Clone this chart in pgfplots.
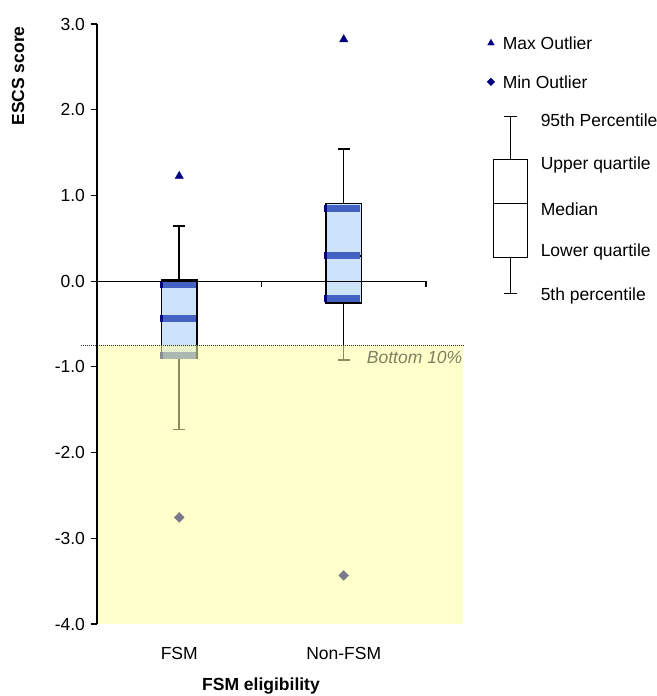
\documentclass[border=0pt]{standalone}
\usepackage{pgfplots}
\pgfplotsset{compat=1.18}
\usepgfplotslibrary{statistics}
\usepackage{fontspec}
\setmainfont{Liberation Sans}
\definecolor{boxfill}{HTML}{CCE3FB}
\definecolor{band}{HTML}{4462C4}
\definecolor{navy}{HTML}{000080}
\definecolor{shade}{HTML}{FFFFA2}
\definecolor{bottomtxt}{HTML}{7F7F62}
\definecolor{minout}{HTML}{7A7A8C}
\begin{document}
\fontsize{17.5}{21}\selectfont
\begin{tikzpicture}[x=1pt,y=1pt]
\useasboundingbox (0,0) rectangle (656,696);
\begin{axis}[
  at={(97pt,72pt)}, anchor=south west,
  scale only axis, width=366pt, height=600pt,
  xmin=-0.5, xmax=1.725, ymin=-4, ymax=3,
  clip=false,
  boxplot/draw direction=y,
  axis lines=left, axis line style={-},
  x axis line style={draw=none},
  y axis line style={black, line width=1.2pt},
  xtick={0,1}, xticklabels={FSM,Non-FSM},
  x tick style={draw=none},
  xticklabel style={anchor=center, yshift=-23pt},
  ytick={-4,-3,-2,-1,0,1,2,3},
  yticklabels={-4.0,-3.0,-2.0,-1.0,0.0,1.0,2.0,3.0},
  y tick style={black, line width=1.2pt},
  tick align=outside, major tick length=6pt,
  tick label style={font=\fontsize{17.5}{21}\selectfont},
  xlabel={FSM eligibility}, ylabel={ESCS score},
  label style={font=\fontsize{17.5}{21}\selectfont\bfseries},
  xlabel style={at={(axis description cs:0.448,-0.1033)}, anchor=center},
  ylabel style={at={(axis description cs:-0.2158,0.9133)}, anchor=center},
  axis on top,
]
% box plots
\addplot[boxplot prepared={draw position=0, lower whisker=-1.73, lower quartile=-0.895,
  median=-0.44, upper quartile=0.012, upper whisker=0.642, box extend=0.213, whisker extend=0.07},
  draw=black, fill=boxfill, line width=1.5pt, solid, mark=none] coordinates {};
\addplot[boxplot prepared={draw position=1, lower whisker=-0.92, lower quartile=-0.253,
  median=0.294, upper quartile=0.906, upper whisker=1.54, box extend=0.213, whisker extend=0.07},
  draw=black, fill=boxfill, line width=1.5pt, solid, mark=none] coordinates {};
% quartile bands
\addplot[band, line width=7pt, line cap=butt] coordinates {(-0.1,-0.039)(0.1,-0.039)};
\addplot[band, line width=7pt, line cap=butt] coordinates {(-0.1,-0.44)(0.1,-0.44)};
\addplot[band, line width=7pt, line cap=butt] coordinates {(-0.1,-0.873)(0.1,-0.873)};
\addplot[band, line width=7pt, line cap=butt] coordinates {(0.9,0.845)(1.1,0.845)};
\addplot[band, line width=7pt, line cap=butt] coordinates {(0.9,0.294)(1.1,0.294)};
\addplot[band, line width=7pt, line cap=butt] coordinates {(0.9,-0.2)(1.1,-0.2)};
\addplot[navy, line width=7pt, line cap=butt] coordinates {(-0.118,-0.039)(-0.1,-0.039)};
\addplot[navy, line width=7pt, line cap=butt] coordinates {(-0.118,-0.44)(-0.1,-0.44)};
\addplot[navy, line width=7pt, line cap=butt] coordinates {(-0.118,-0.873)(-0.1,-0.873)};
\addplot[navy, line width=7pt, line cap=butt] coordinates {(0.882,0.845)(0.9,0.845)};
\addplot[navy, line width=7pt, line cap=butt] coordinates {(0.882,0.294)(0.9,0.294)};
\addplot[navy, line width=7pt, line cap=butt] coordinates {(0.882,-0.2)(0.9,-0.2)};
% outliers
\addplot[only marks, mark=triangle*, mark size=4.8pt, navy] coordinates {(0,1.225)(1,2.82)};
\addplot[only marks, mark=square*, mark size=3.5pt, mark options={rotate=45}, minout] coordinates {(0,-2.757)(1,-3.434)};
% category axis at zero
\addplot[black, line width=1.2pt] coordinates {(-0.5,0)(1.5,0)};
\addplot[black, line width=1.2pt] coordinates {(0.5,0)(0.5,-0.07)};
\addplot[black, line width=1.2pt] coordinates {(1.5,0)(1.5,-0.07)};
% bottom 10% shading
\addplot[draw=none, fill=shade, fill opacity=0.55] coordinates {(-0.5,-4)(1.725,-4)(1.725,-0.75)(-0.5,-0.75)} -- cycle;
\addplot[black!80, line width=0.8pt, dash pattern=on 0.8pt off 1.2pt] coordinates {(-0.6,-0.75)(1.725,-0.75)};
\node[anchor=east, inner xsep=0.5pt, font=\fontsize{17.5}{21}\selectfont\itshape, text=bottomtxt] at (axis cs:1.725,-0.887) {Bottom 10\%};
% key
\addplot[only marks, mark=triangle*, mark size=3.8pt, navy] coordinates {(1.895,2.777)};
\node[anchor=west, font=\fontsize{17.5}{21}\selectfont] at (axis cs:1.93,2.777) {Max Outlier};
\addplot[only marks, mark=square*, mark size=2.7pt, mark options={rotate=45}, navy] coordinates {(1.895,2.325)};
\node[anchor=west, font=\fontsize{17.5}{21}\selectfont] at (axis cs:1.93,2.325) {Min Outlier};
\addplot[boxplot prepared={draw position=2.0137, lower whisker=-0.1435, lower quartile=0.272,
  median=0.907, upper quartile=1.42, upper whisker=1.917, box extend=0.209, whisker extend=0.085},
  draw=black, fill=white, line width=1.2pt, solid, mark=none] coordinates {};
\node[anchor=west, font=\fontsize{17.5}{21}\selectfont] at (axis cs:2.161,1.878) {95th Percentile};
\node[anchor=west, font=\fontsize{17.5}{21}\selectfont] at (axis cs:2.161,1.353) {Upper quartile};
\node[anchor=west, font=\fontsize{17.5}{21}\selectfont] at (axis cs:2.161,0.84) {Median};
\node[anchor=west, font=\fontsize{17.5}{21}\selectfont] at (axis cs:2.161,0.342) {Lower quartile};
\node[anchor=west, font=\fontsize{17.5}{21}\selectfont] at (axis cs:2.161,-0.175) {5th percentile};
\end{axis}
\end{tikzpicture}
\end{document}
